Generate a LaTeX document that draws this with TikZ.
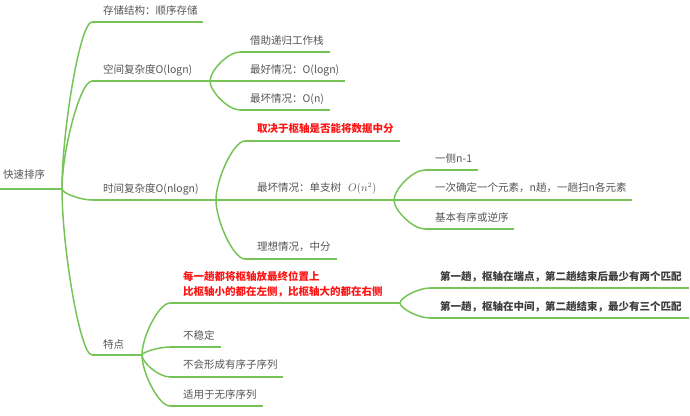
\documentclass[tikz,border=0pt]{standalone}
\usepackage{fontspec}
\setmainfont{Noto Sans CJK SC}
\usetikzlibrary{calc}
\definecolor{lg}{RGB}{118,196,88}
\definecolor{tg}{RGB}{85,85,85}
\definecolor{dg}{RGB}{60,60,60}
\definecolor{rd}{RGB}{255,20,20}
\newcommand{\curv}[2]{\draw[branch] (#1) .. controls ($(#1)!0.35!(#1|-#2)$) and ($(#1|-#2)!0.6!(#2)$) .. (#2);}
\begin{document}
\begin{tikzpicture}[x=1pt,y=-1pt,
  branch/.style={draw=lg, line width=1.5pt},
  lbl/.style={anchor=west, inner sep=0pt, text=tg, font=\fontsize{10.5}{13}\selectfont},
  redlbl/.style={lbl, text=rd, font=\fontsize{10.5}{15}\selectfont\bfseries, align=left},
  boldlbl/.style={lbl, text=dg, font=\fontsize{10.5}{13}\selectfont\bfseries}]
\useasboundingbox (0,0) rectangle (690,415);
% coordinates
\coordinate (r0) at (0,189);
\coordinate (rb) at (62,189);
\coordinate (s1) at (92,22);  \coordinate (e1) at (203,22);
\coordinate (s2) at (92,81);  \coordinate (b2) at (210,81);
\coordinate (s3) at (92,200); \coordinate (b3) at (216,200);
\coordinate (s4) at (92,355); \coordinate (b4) at (142,355);
\coordinate (s21) at (240,52);  \coordinate (e21) at (330,52);
\coordinate (e22) at (345,81);
\coordinate (s23) at (240,110); \coordinate (e23) at (330,110);
\coordinate (s31) at (245,141); \coordinate (e31) at (400,141);
\coordinate (b32) at (394,200);
\coordinate (s33) at (245,259); \coordinate (e33) at (337,259);
\coordinate (s321) at (425,170); \coordinate (e321) at (478,170);
\coordinate (e322) at (632,200);
\coordinate (s323) at (425,229); \coordinate (e323) at (514,229);
\coordinate (s41) at (170,303); \coordinate (b41) at (400,303);
\coordinate (s42) at (170,347); \coordinate (e42) at (221,347);
\coordinate (s43) at (170,377); \coordinate (e43) at (283,377);
\coordinate (s44) at (170,406); \coordinate (e44) at (263,406);
\coordinate (s411) at (430,288); \coordinate (e411) at (689,288);
\coordinate (s412) at (430,318); \coordinate (e412) at (689,318);
% labels
\node[lbl] (root) at (3,175) {快速排序};
\node[lbl] (n1) at (103,11) {存储结构：顺序存储};
\node[lbl] (n2) at (103,70) {空间复杂度O(logn)};
\node[lbl] (n21) at (250,41) {借助递归工作栈};
\node[lbl] (n22) at (250,70) {最好情况：O(logn)};
\node[lbl] (n23) at (250,99) {最坏情况：O(n)};
\node[lbl] (n3) at (103,189) {时间复杂度O(nlogn)};
\node[redlbl] (n31) at (257,129) {取决于枢轴是否能将数据中分};
\node[lbl] (n32) at (257,188) {最坏情况：单支树\hspace{7pt}$O(n^2)$};
\node[lbl] (n33) at (257,247) {理想情况，中分};
\node[lbl] (n321) at (435,159) {一侧n-1};
\node[lbl] (n322) at (435,188) {一次确定一个元素，n趟，一趟扫n各元素};
\node[lbl] (n323) at (435,217) {基本有序或逆序};
\node[lbl] (n4) at (103,344) {特点};
\node[redlbl] (n41) at (183,284) {每一趟都将枢轴放最终位置上\\比枢轴小的都在左侧，比枢轴大的都在右侧};
\node[lbl] (n42) at (183,335) {不稳定};
\node[lbl] (n43) at (183,365) {不会形成有序子序列};
\node[lbl] (n44) at (183,395) {适用于无序序列};
\node[boldlbl] (n411) at (440,277) {第一趟，枢轴在端点，第二趟结束后最少有两个匹配};
\node[boldlbl] (n412) at (440,307) {第一趟，枢轴在中间，第二趟结束，最少有三个匹配};
% lines
\draw[branch] (r0) -- (rb);
\curv{rb}{s1} \draw[branch] (s1) -- (e1);
\curv{rb}{s2} \draw[branch] (s2) -- (b2);
\curv{rb}{s3} \draw[branch] (s3) -- (b3);
\curv{rb}{s4} \draw[branch] (s4) -- (b4);
\curv{b2}{s21} \draw[branch] (s21) -- (e21);
\draw[branch] (b2) -- (e22);
\curv{b2}{s23} \draw[branch] (s23) -- (e23);
\curv{b3}{s31} \draw[branch] (s31) -- (e31);
\draw[branch] (b3) -- (b32);
\curv{b3}{s33} \draw[branch] (s33) -- (e33);
\curv{b32}{s321} \draw[branch] (s321) -- (e321);
\draw[branch] (b32) -- (e322);
\curv{b32}{s323} \draw[branch] (s323) -- (e323);
\curv{b4}{s41} \draw[branch] (s41) -- (b41);
\curv{b4}{s42} \draw[branch] (s42) -- (e42);
\curv{b4}{s43} \draw[branch] (s43) -- (e43);
\curv{b4}{s44} \draw[branch] (s44) -- (e44);
\curv{b41}{s411} \draw[branch] (s411) -- (e411);
\curv{b41}{s412} \draw[branch] (s412) -- (e412);
\end{tikzpicture}
\end{document}
